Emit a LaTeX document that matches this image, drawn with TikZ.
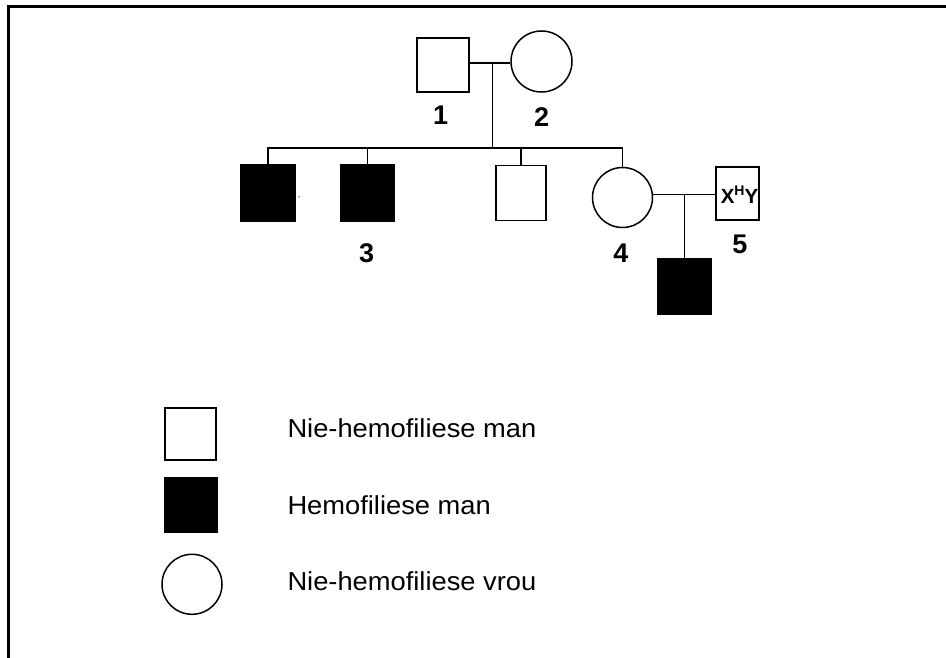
\documentclass[tikz,border=0pt]{standalone}
\usepackage{fontspec}
\setmainfont{Liberation Sans}
\usetikzlibrary{shapes.geometric}
\begin{document}
\begin{tikzpicture}[x=1pt,y=-1pt,
  male/.style={draw, rectangle, inner sep=0pt, minimum width=52pt, minimum height=54pt, line width=1.5pt},
  sick/.style={male, fill=black},
  female/.style={draw, circle, inner sep=0pt, minimum size=60pt, line width=1.5pt},
  conn/.style={line width=1.5pt},
  lbl/.style={inner sep=0pt, font=\fontsize{27}{27}\selectfont\bfseries},
  legtxt/.style={inner sep=0pt, anchor=base west, font=\fontsize{26}{26}\selectfont, xscale=1.05}
]
\useasboundingbox (0,0) rectangle (946,658);
\draw[line width=3.5pt, line join=miter] (946,6.5) -- (8.5,6.5) -- (8.5,658);

% generation I
\node[male] (n1) at (443,65) {};
\node[female, minimum size=61pt] (n2) at (541.5,61.5) {};
\coordinate (m1) at (492.7,63);
\coordinate (s) at (492.7,148);
\draw[conn] (n1.east |- m1) -- (n2.west |- m1);
\draw[conn] (m1) -- (s);
\node[lbl] (l1) at (440.7,115) {1};
\node[lbl] (l2) at (541.7,117) {2};

% generation II
\node[sick, minimum width=54pt, minimum height=56pt] (c1) at (268,193) {};
\node[sick, minimum width=53pt, minimum height=56pt] (c2) at (367.5,193) {};
\node[male, minimum width=50pt, minimum height=55pt] (c3) at (521,193) {};
\node[female, minimum size=60pt] (c4) at (622.5,197.5) {};
\draw[conn] (c1.north) -- (c1.north |- s) -- (c4.north |- s) -- (c4.north);
\draw[conn] (c2.north) -- (c2.north |- s);
\draw[conn] (c3.north) -- (c3.north |- s);
\fill (299,196.7) circle (0.6pt);
\node[lbl] (l3) at (366.7,253) {3};
\node[lbl] (l4) at (620.8,253) {4};

\node[male, minimum width=43pt, minimum height=53pt] (n5) at (737.5,193.5) {};
\node[inner sep=0pt, anchor=base, font=\fontsize{20.5}{20.5}\selectfont\bfseries] (g5) at (739.5,204) {X\raisebox{8pt}{\fontsize{14}{14}\selectfont H}Y};
\node[lbl] (l5) at (739.8,244) {5};
\coordinate (m2) at (684.5,194.3);
\draw[conn] (c4.east |- m2) -- (n5.west |- m2);
\node[sick, minimum width=53pt, minimum height=55pt] (c5) at (684.5,286.7) {};
\draw[conn] (m2) -- (c5.north);

% legend
\node[male, line width=2.2pt, minimum width=51pt, minimum height=52pt] (k1) at (190.8,433.7) {};
\node[sick, minimum width=53pt, minimum height=55pt] (k2) at (190.8,505) {};
\node[female, minimum size=60pt] (k3) at (192,584.3) {};
\node[legtxt] (t1) at (287.3,437.7) {Nie-hemofiliese man};
\node[legtxt] (t2) at (287.3,514.3) {Hemofiliese man};
\node[legtxt] (t3) at (287.3,590) {Nie-hemofiliese vrou};
\end{tikzpicture}
\end{document}
